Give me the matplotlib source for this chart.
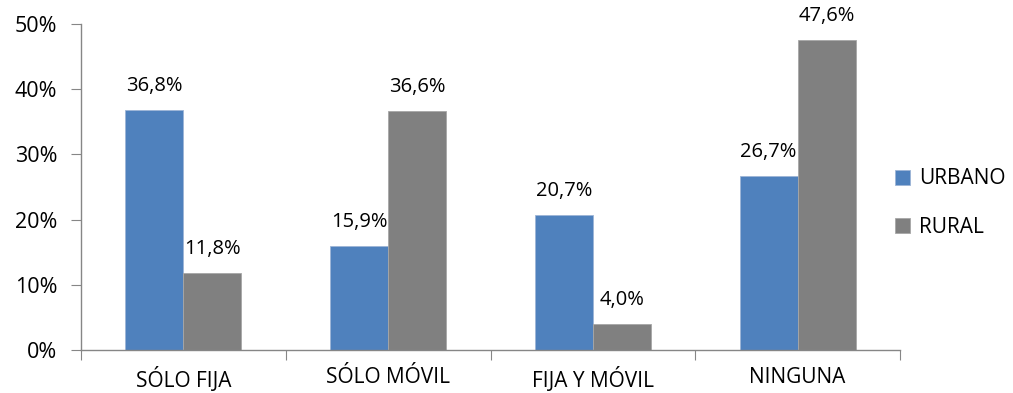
import numpy as np
import matplotlib.pyplot as plt
from matplotlib.ticker import FuncFormatter

plt.rcParams['font.family'] = ['Open Sans', 'DejaVu Sans']

# Tipo de conexión por zona
categorias = ["SÓLO FIJA", "SÓLO MÓVIL", "FIJA Y MÓVIL", "NINGUNA"]
urbano = [36.8, 15.9, 20.7, 26.7]
rural = [11.8, 36.6, 4.0, 47.6]

fig = plt.figure(figsize=(10.13, 3.93), dpi=100)
ax = fig.add_axes([81/1013, 43/393, 819/1013, 326/393])

x = np.arange(len(categorias))
w = 0.283
b1 = ax.bar(x - w/2, urbano, w, color='#4F81BD', edgecolor='#9DB5D6', linewidth=0.6, label='URBANO')
b2 = ax.bar(x + w/2, rural, w, color='#808080', edgecolor='#A6A6A6', linewidth=0.6, label='RURAL')

for bars, vals in [(b1, urbano), (b2, rural)]:
    for bar, v in zip(bars, vals):
        ax.annotate(f"{v:.1f}%".replace('.', ','),
                    (bar.get_x() + bar.get_width()/2, v),
                    xytext=(0, 10), textcoords='offset points',
                    ha='center', va='bottom', fontsize=14.5)

ax.set_xlim(-0.5, len(categorias) - 0.5)
ax.set_ylim(0, 50)
ax.set_yticks(np.arange(0, 51, 10))
ax.yaxis.set_major_formatter(FuncFormatter(lambda v, p: f"{v:.0f}%"))

# ticks on the x axis sit between categories
ax.set_xticks(np.arange(-0.5, len(categorias), 1))
ax.set_xticklabels([])
ax.set_xticks(x, minor=True)
ax.set_xticklabels(categorias, minor=True)
ax.tick_params(axis='x', which='minor', length=0, pad=12, labelsize=15)
ax.tick_params(axis='x', which='major', length=7, color='#868686')
ax.tick_params(axis='y', length=7, color='#868686', pad=10, labelsize=15.5)

for s in ['top', 'right']:
    ax.spines[s].set_visible(False)
for s in ['left', 'bottom']:
    ax.spines[s].set_color('#868686')
    ax.spines[s].set_linewidth(1)

ax.legend(loc='center left', bbox_to_anchor=(887/1013, 1 - 203/393),
          bbox_transform=fig.transFigure, frameon=False, borderaxespad=0,
          fontsize=15, handlelength=0.72, handleheight=0.72,
          handletextpad=0.4, labelspacing=1.3)

fig.savefig('out.png', dpi=100)
